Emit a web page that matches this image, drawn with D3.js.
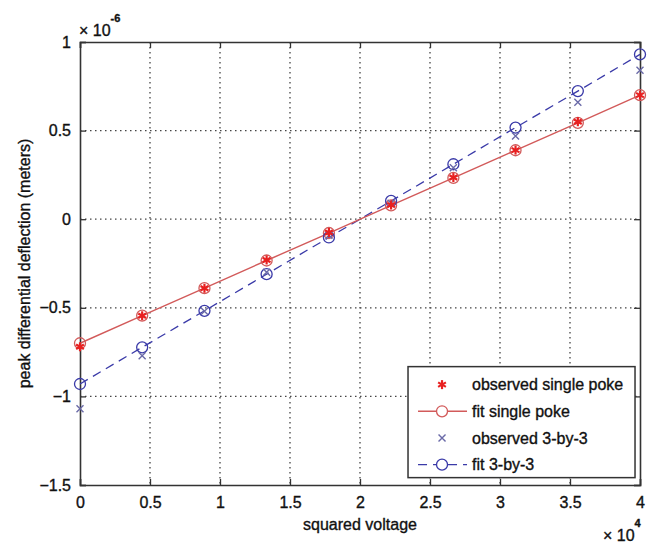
<!DOCTYPE html>
<html>
<head>
<meta charset="utf-8">
<script src="https://cdn.jsdelivr.net/npm/d3@7"></script>
<style>
  body { margin: 0; background: #fff; }
  text { font-family: "Liberation Sans", Arial, sans-serif; fill: #111; stroke: #111; stroke-width: 0.35; }
</style>
</head>
<body>
<div id="chart"></div>
<script>
// data (x in units of 1e4 V^2, y in units of 1e-6 m)
var voltSq = [0, 0.444, 0.889, 1.333, 1.778, 2.222, 2.667, 3.111, 3.556, 4.0];
var obsSingle = [-0.72, -0.545, -0.39, -0.23, -0.075, 0.08, 0.235, 0.39, 0.55, 0.70];
var fitSingle = [-0.70, -0.544, -0.389, -0.233, -0.078, 0.078, 0.233, 0.389, 0.544, 0.70];
var obs3x3 = [-1.07, -0.77, -0.52, -0.30, -0.09, 0.09, 0.29, 0.47, 0.66, 0.84];
var fit3x3 = [-0.93, -0.723, -0.517, -0.31, -0.103, 0.103, 0.31, 0.517, 0.723, 0.93];
var xTicks = [0, 0.5, 1, 1.5, 2, 2.5, 3, 3.5, 4];
var yTicks = [-1.5, -1, -0.5, 0, 0.5, 1];
var legendLabels = ["observed single poke", "fit single poke", "observed 3-by-3", "fit 3-by-3"];

var svgWidth = 654;
var svgHeight = 546;
var margin = { top: 42, right: 14, bottom: 61, left: 80 };
var width = svgWidth - margin.left - margin.right;
var height = svgHeight - margin.top - margin.bottom;

var svg = d3.select("#chart")
  .append("svg")
  .attr("width", svgWidth)
  .attr("height", svgHeight);

var chartGroup = svg.append("g")
  .attr("transform", `translate(${margin.left}, ${margin.top})`);

var xScale = d3.scaleLinear().domain([0, 4]).range([0, width]);
var yScale = d3.scaleLinear().domain([-1.5, 1]).range([height, 0]);

var red = "#e82020";
var redLine = "#d25a5a";
var blue = "#3a3aa8";
var blueX = "#6a6aa8";
var axisColor = "#333";

// grid
chartGroup.append("g").selectAll("line")
  .data(xTicks.slice(1, -1))
  .enter().append("line")
  .attr("x1", d => xScale(d)).attr("x2", d => xScale(d))
  .attr("y1", 0).attr("y2", height)
  .attr("stroke", "#444").attr("stroke-width", 1.3)
  .attr("stroke-dasharray", "1.5,3.5");

chartGroup.append("g").selectAll("line")
  .data(yTicks.slice(1, -1))
  .enter().append("line")
  .attr("x1", 0).attr("x2", width)
  .attr("y1", d => yScale(d)).attr("y2", d => yScale(d))
  .attr("stroke", "#444").attr("stroke-width", 1.3)
  .attr("stroke-dasharray", "1.5,3.5");

// axes (ticks inward, box all round)
var bottomAxis = d3.axisBottom(xScale).tickValues(xTicks).tickSize(-6).tickPadding(12).tickFormat(d3.format("~g"));
var topAxis = d3.axisTop(xScale).tickValues(xTicks).tickSize(-6).tickFormat("");
var leftAxis = d3.axisLeft(yScale).tickValues(yTicks).tickSize(-6).tickPadding(9).tickFormat(d3.format("~g"));
var rightAxis = d3.axisRight(yScale).tickValues(yTicks).tickSize(-6).tickFormat("");

function styleAxis(g) {
  g.select(".domain").attr("stroke", axisColor).attr("stroke-width", 1.6);
  g.selectAll(".tick line").attr("stroke", axisColor).attr("stroke-width", 1.3);
  g.selectAll(".tick text").attr("font-size", 16).attr("fill", "#111")
    .attr("stroke", "#111").attr("stroke-width", 0.35)
    .attr("font-family", "Liberation Sans, Arial, sans-serif");
}

chartGroup.append("g").attr("transform", `translate(0, ${height})`).call(bottomAxis).call(styleAxis);
chartGroup.append("g").call(topAxis).call(styleAxis);
chartGroup.append("g").call(leftAxis).call(styleAxis);
chartGroup.append("g").attr("transform", `translate(${width}, 0)`).call(rightAxis).call(styleAxis);

var plot = chartGroup.append("g");

var line = d3.line()
  .x(d => xScale(d[0]))
  .y(d => yScale(d[1]));

// fit 3-by-3 (dashed blue)
plot.append("path")
  .datum(voltSq.map((v, i) => [v, fit3x3[i]]))
  .attr("d", line)
  .attr("fill", "none")
  .attr("stroke", blue)
  .attr("stroke-width", 1.3)
  .attr("stroke-dasharray", "9,6");

// fit single poke (solid red)
plot.append("path")
  .datum(voltSq.map((v, i) => [v, fitSingle[i]]))
  .attr("d", line)
  .attr("fill", "none")
  .attr("stroke", redLine)
  .attr("stroke-width", 1.4);

function drawAsterisk(g, cx, cy, r, color) {
  var angles = [90, 30, -30];
  angles.forEach(function(a) {
    var rad = a * Math.PI / 180;
    g.append("line")
      .attr("x1", cx - r * Math.cos(rad)).attr("y1", cy - r * Math.sin(rad))
      .attr("x2", cx + r * Math.cos(rad)).attr("y2", cy + r * Math.sin(rad))
      .attr("stroke", color).attr("stroke-width", 2.2);
  });
}

function drawCross(g, cx, cy, r, color) {
  g.append("path")
    .attr("d", `M${cx - r},${cy - r}L${cx + r},${cy + r}M${cx - r},${cy + r}L${cx + r},${cy - r}`)
    .attr("stroke", color).attr("stroke-width", 1.4).attr("fill", "none");
}

// fit circles
plot.selectAll("circle.fitS")
  .data(voltSq)
  .enter().append("circle")
  .attr("class", "fitS")
  .attr("cx", d => xScale(d))
  .attr("cy", (d, i) => yScale(fitSingle[i]))
  .attr("r", 5.5)
  .attr("fill", "none")
  .attr("stroke", redLine)
  .attr("stroke-width", 1.3);

plot.selectAll("circle.fitB")
  .data(voltSq)
  .enter().append("circle")
  .attr("class", "fitB")
  .attr("cx", d => xScale(d))
  .attr("cy", (d, i) => yScale(fit3x3[i]))
  .attr("r", 5.5)
  .attr("fill", "none")
  .attr("stroke", blue)
  .attr("stroke-width", 1.3);

// observed markers
voltSq.forEach(function(v, i) {
  drawCross(plot, xScale(v), yScale(obs3x3[i]), 3.5, blueX);
  drawAsterisk(plot, xScale(v), yScale(obsSingle[i]), 4.5, red);
});

// legend
var legend = chartGroup.append("g")
  .attr("transform", `translate(${xScale(2.343)}, ${yScale(-0.832)})`);

var legW = 227, legH = 111;
legend.append("rect")
  .attr("width", legW).attr("height", legH)
  .attr("fill", "#fff")
  .attr("stroke", axisColor).attr("stroke-width", 1.5);

var rowY = d3.scalePoint().domain(d3.range(4)).range([18, 98]);
var symX = 34;

legendLabels.forEach(function(lab, i) {
  var y = rowY(i);
  var row = legend.append("g");
  if (i === 0) {
    drawAsterisk(row, symX, y, 4.5, red);
  } else if (i === 1) {
    row.append("line").attr("x1", 10).attr("x2", 59).attr("y1", y).attr("y2", y)
      .attr("stroke", redLine).attr("stroke-width", 1.4);
    row.append("circle").attr("cx", symX).attr("cy", y).attr("r", 5.5)
      .attr("fill", "#fff").attr("stroke", redLine).attr("stroke-width", 1.3);
  } else if (i === 2) {
    drawCross(row, symX, y, 3.5, blueX);
  } else {
    row.append("line").attr("x1", 10).attr("x2", 59).attr("y1", y).attr("y2", y)
      .attr("stroke", blue).attr("stroke-width", 1.3).attr("stroke-dasharray", "9,6");
    row.append("circle").attr("cx", symX).attr("cy", y).attr("r", 5.5)
      .attr("fill", "#fff").attr("stroke", blue).attr("stroke-width", 1.3);
  }
  row.append("text")
    .attr("x", 64).attr("y", y)
    .attr("dy", "0.35em")
    .attr("font-size", 16)
    .text(lab);
});

// axis labels
chartGroup.append("text")
  .attr("x", width / 2)
  .attr("y", height + 45)
  .attr("text-anchor", "middle")
  .attr("font-size", 16)
  .text("squared voltage");

chartGroup.append("text")
  .attr("transform", "rotate(-90)")
  .attr("x", -height / 2)
  .attr("y", -50)
  .attr("text-anchor", "middle")
  .attr("font-size", 16)
  .text("peak differential deflection (meters)");

// exponent labels
var yExp = chartGroup.append("text").attr("x", -1).attr("y", -6).attr("font-size", 16);
yExp.append("tspan").text("\u00d7 10");
yExp.append("tspan").attr("dy", -14).attr("font-size", 11).attr("font-weight", "bold").text("-6");

var xExp = chartGroup.append("text").attr("x", width - 37).attr("y", height + 56).attr("font-size", 16);
xExp.append("tspan").text("\u00d7 10");
xExp.append("tspan").attr("dy", -14).attr("font-size", 11).attr("font-weight", "bold").text("4");
</script>
</body>
</html>
